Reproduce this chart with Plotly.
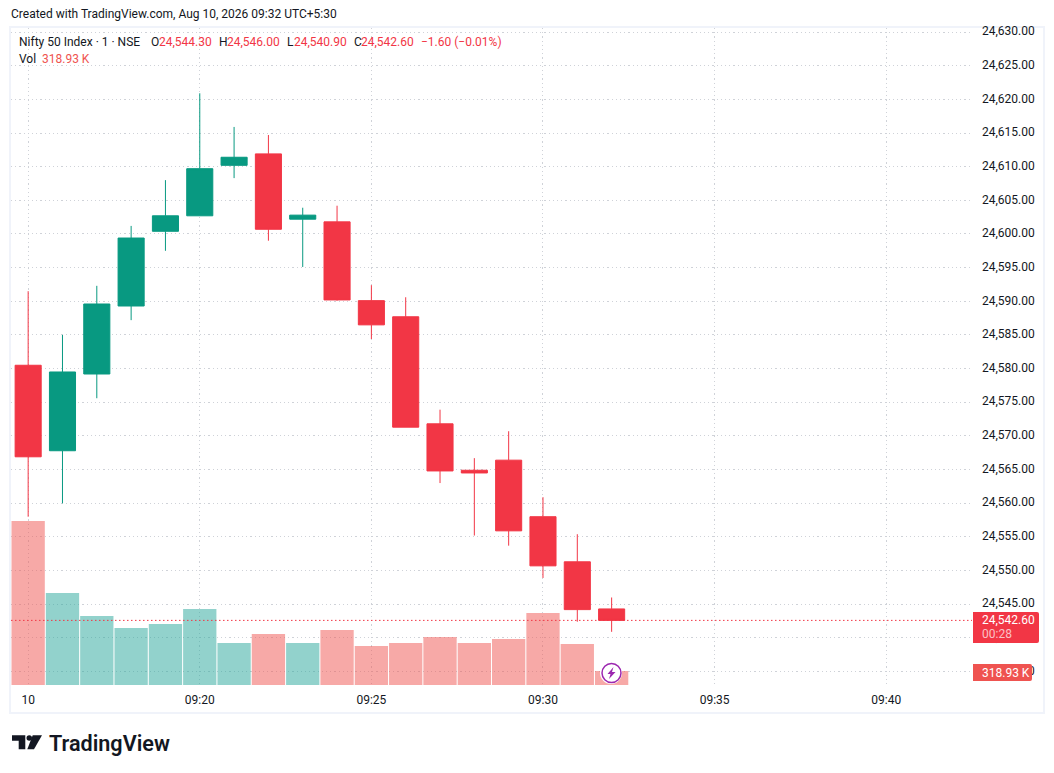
import plotly.graph_objects as go

# the page body keeps an 8px margin, so the figure is drawn inset by that much
BODY = 8
W = 1054 - 2 * BODY
H = 773 - 2 * BODY
# plot box in page pixels
LEFT, RIGHT, TOP, BOTTOM = 11, 972, 28, 685

times = ["09:15", "09:16", "09:17", "09:18", "09:19", "09:20", "09:21", "09:22", "09:23",
         "09:24", "09:25", "09:26", "09:27", "09:28", "09:29", "09:30", "09:31", "09:32"]
opens = [24580.5, 24567.8, 24579.2, 24589.3, 24600.4, 24602.7, 24610.2, 24611.9, 24602.2,
         24601.8, 24590.1, 24587.7, 24571.8, 24564.9, 24566.4, 24558.0, 24551.3, 24544.3]
highs = [24591.5, 24585.0, 24592.3, 24601.2, 24608.0, 24620.9, 24615.9, 24614.7, 24603.9,
         24604.2, 24592.4, 24590.6, 24573.9, 24566.7, 24570.7, 24560.9, 24555.4, 24546.0]
lows = [24558.0, 24560.0, 24575.6, 24587.2, 24597.5, 24602.7, 24608.3, 24599.0, 24595.1,
        24590.1, 24584.4, 24571.3, 24563.0, 24555.2, 24553.7, 24548.9, 24542.4, 24540.9]
closes = [24566.9, 24579.5, 24589.6, 24599.4, 24602.7, 24609.7, 24611.4, 24600.7, 24602.8,
          24590.2, 24586.5, 24571.3, 24564.8, 24564.5, 24555.9, 24550.7, 24544.2, 24542.6]
# volume in thousands
volumes = [3736, 2096, 1572, 1298, 1390, 1731, 957, 1162, 957,
           1253, 888, 957, 1093, 957, 1048, 1640, 934, 318.93]

tick_times = ["09:15", "09:20", "09:25", "09:30", "09:35", "09:40"]
tick_labels = ["10", "09:20", "09:25", "09:30", "09:35", "09:40"]

UP = "#089981"
DOWN = "#f23645"
UP_VOL = "rgba(38,166,154,0.5)"
DOWN_VOL = "rgba(239,83,80,0.5)"
INK = "#131722"
GRID = "#cfd2d8"
FONT = "Roboto"


def stamp(t):
    return "2026-08-10 " + t


def px(x):
    return (x - LEFT) / (RIGHT - LEFT)


def py(y):
    return (BOTTOM - y) / (BOTTOM - TOP)


def label(x, y, text, color=INK, size=12, anchor="left", **kw):
    return dict(xref="paper", yref="paper", x=px(x), y=py(y), text=text, showarrow=False,
                xanchor=anchor, yanchor="middle", align=anchor, borderpad=0,
                font=dict(family=FONT, size=size, color=color, **kw))


def poly(points):
    return "M " + " L ".join(f"{px(a)} {py(b)}" for a, b in points) + " Z"


def tag(x0, x1, y0, y1, r=2):
    # square on the left, rounded on the right
    return (f"M {px(x0)} {py(y0)} L {px(x1 - r)} {py(y0)} Q {px(x1)} {py(y0)} {px(x1)} {py(y0 + r)} "
            f"L {px(x1)} {py(y1 - r)} Q {px(x1)} {py(y1)} {px(x1 - r)} {py(y1)} L {px(x0)} {py(y1)} Z")


def fmt(v):
    return f"{v:,.2f}"


x = [stamp(t) for t in times]
vol_colors = [UP_VOL if c >= o else DOWN_VOL for o, c in zip(opens, closes)]

fig = go.Figure()
fig.add_trace(go.Bar(x=x, y=volumes, marker=dict(color=vol_colors, line_width=0), yaxis="y"))
fig.add_trace(go.Candlestick(x=x, open=opens, high=highs, low=lows, close=closes, yaxis="y2",
                             whiskerwidth=0,
                             increasing=dict(line=dict(color=UP, width=1), fillcolor=UP),
                             decreasing=dict(line=dict(color=DOWN, width=1), fillcolor=DOWN)))

last = closes[-1]
change = last - closes[-2]

shapes = [
    # chart frame
    dict(type="rect", xref="paper", yref="paper", x0=px(10), x1=px(1044), y0=py(27), y1=py(713),
         line=dict(color="#f0f3fa", width=2), layer="below"),
    # last price line
    dict(type="line", xref="x domain", yref="y2", x0=0, x1=1, y0=last, y1=last,
         line=dict(color=DOWN, width=1, dash="1.5px,2.5px")),
    # price tag and volume tag
    dict(type="path", xref="paper", yref="paper", path=tag(973, 1039, 612, 643),
         fillcolor=DOWN, line_width=0),
    dict(type="path", xref="paper", yref="paper", path=tag(973, 1032, 664, 681),
         fillcolor="#ef5350", line_width=0),
    # lightning badge
    dict(type="circle", xref="paper", yref="paper", x0=px(600), x1=px(622), y0=py(662), y1=py(684),
         fillcolor="white", line_width=0),
    dict(type="circle", xref="paper", yref="paper", x0=px(602), x1=px(621), y0=py(663.5), y1=py(682.5),
         fillcolor="white", line=dict(color="#9c27b0", width=1.5)),
    dict(type="path", xref="paper", yref="paper", fillcolor="#9c27b0", line_width=0,
         path=poly([(613.5, 667), (607.5, 674), (610.5, 674), (609, 679), (615.5, 672), (612, 672)])),
    # logo mark
    dict(type="path", xref="paper", yref="paper", fillcolor=INK, line_width=0,
         path=poly([(12, 735.3), (25.3, 735.3), (25.3, 749.3), (18.7, 749.3), (18.7, 740.7), (12, 740.7)])),
    dict(type="circle", xref="paper", yref="paper", fillcolor=INK, line_width=0,
         x0=px(26.5), x1=px(32), y0=py(735.3), y1=py(740.8)),
    dict(type="path", xref="paper", yref="paper", fillcolor=INK, line_width=0,
         path=poly([(32.7, 735.3), (42, 735.3), (34, 749.3), (27.3, 749.3)])),
]

annotations = [
    label(10, 14, "Created with TradingView.com, Aug 10, 2026 09:32 UTC+5:30", size=12),
    label(18, 42, "Nifty 50 Index · 1 · NSE"),
    label(150, 42, "O"), label(158, 42, fmt(opens[-1]), DOWN),
    label(218, 42, "H"), label(226, 42, fmt(highs[-1]), DOWN),
    label(286, 42, "L"), label(293, 42, fmt(lows[-1]), DOWN),
    label(353, 42, "C"), label(360, 42, fmt(last), DOWN),
    label(420, 42, f"−{abs(change):.2f} (−{abs(change) / closes[-2] * 100:.2f}%)", DOWN),
    label(18, 59, "Vol"), label(41, 59, f"{volumes[-1]:.2f} K", "#ef5350"),
    label(981, 620, fmt(last), "white"),
    label(981, 634, "00:28", "rgba(255,255,255,0.7)"),
    label(981, 673, f"{volumes[-1]:.2f} K", "white"),
    label(48, 743, "TradingView", INK, 21.6, weight=600),
]

fig.update_layout(
    width=W, height=H, autosize=False,
    margin=dict(l=LEFT - BODY, r=W + BODY - RIGHT, t=TOP - BODY, b=H + BODY - BOTTOM, pad=0),
    paper_bgcolor="white", plot_bgcolor="white",
    showlegend=False, bargap=0.03, boxgap=0.24, boxgroupgap=0,
    font=dict(family=FONT, size=12, color=INK),
    shapes=shapes, annotations=annotations,
    xaxis=dict(type="date", range=[stamp("09:14:30"), stamp("09:42:30")],
               rangeslider=dict(visible=False),
               tickmode="array", tickvals=[stamp(t) for t in tick_times], ticktext=tick_labels,
               showgrid=True, gridcolor=GRID, griddash="1.2px,3px", gridwidth=1,
               ticks="", zeroline=False, showline=False, ticklabelstandoff=6,
               tickfont=dict(family=FONT, size=12, color=INK)),
    yaxis=dict(range=[0, 14966], visible=False, showgrid=False),
    yaxis2=dict(overlaying="y", side="right", range=[24533.0, 24630.6],
                tick0=24530, dtick=5, tickformat=",.2f",
                showgrid=True, gridcolor=GRID, griddash="1.2px,3px", gridwidth=1,
                ticks="", zeroline=False, showline=False, ticklabelstandoff=9, ticklabelshift=-1,
                tickfont=dict(family=FONT, size=12, color=INK)),
)

fig.write_html("out.html")
